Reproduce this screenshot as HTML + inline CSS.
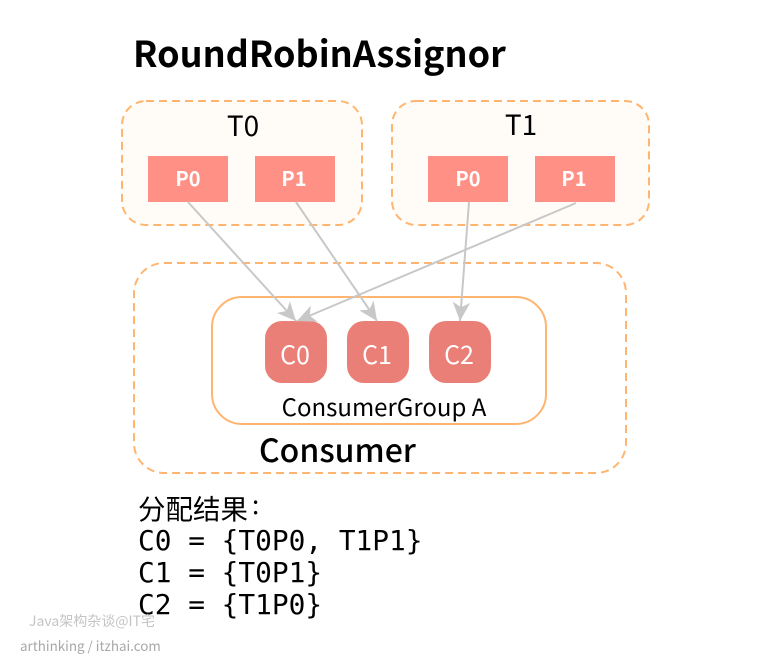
<!DOCTYPE html>
<html><head><meta charset="utf-8"><style>
html,body{margin:0;padding:0;background:#fff}
svg{display:block}
text{font-family:"Noto Sans CJK SC","Liberation Sans",sans-serif}
.m{font-family:"DejaVu Sans Mono","Noto Sans CJK SC",monospace;font-size:27.8px;fill:#000}
</style></head><body>
<svg width="774" height="658" viewBox="0 0 774 658" xmlns="http://www.w3.org/2000/svg">
<defs><marker id="a" viewBox="0 0 16 16" refX="15" refY="8" markerWidth="20" markerHeight="20" markerUnits="userSpaceOnUse" orient="auto"><path d="M0 1 L15 8 L0 15 L4 8 Z" fill="#c8c8c8"/></marker></defs>
<text x="133" y="67" font-size="36" font-weight="700" fill="#000">RoundRobinAssignor</text>
<rect x="122" y="101" width="240" height="124" rx="24" fill="#fffcf7" stroke="#ffb570" stroke-width="2" stroke-dasharray="8 5"/>
<rect x="392" y="101" width="257" height="124" rx="24" fill="#fffcf7" stroke="#ffb570" stroke-width="2" stroke-dasharray="8 5"/>
<text x="243" y="136" font-size="28" text-anchor="middle" fill="#000">T0</text>
<text x="521" y="135" font-size="28" text-anchor="middle" fill="#000">T1</text>
<rect x="148" y="156" width="80" height="46" fill="#ff9085"/>
<rect x="255" y="156" width="80" height="46" fill="#ff9085"/>
<rect x="428" y="156" width="80" height="46" fill="#ff9085"/>
<rect x="535" y="156" width="80" height="46" fill="#ff9085"/>
<g font-size="20" font-weight="700" fill="#fff" text-anchor="middle">
<text x="188" y="186">P0</text><text x="294" y="186">P1</text><text x="468" y="186">P0</text><text x="574" y="186">P1</text>
</g>
<rect x="134" y="263" width="492" height="210" rx="30" fill="#fff" stroke="#ffb570" stroke-width="2" stroke-dasharray="8 5"/>
<rect x="212" y="297" width="334" height="127" rx="30" fill="#fff" stroke="#ffb570" stroke-width="2"/>
<rect x="265" y="321" width="62" height="62" rx="17" fill="#ea7f78"/>
<rect x="347" y="321" width="62" height="62" rx="17" fill="#ea7f78"/>
<rect x="429" y="321" width="62" height="62" rx="17" fill="#ea7f78"/>
<g font-size="25" fill="#fff" text-anchor="middle">
<text x="295" y="364">C0</text><text x="377" y="364">C1</text><text x="459" y="364">C2</text>
</g>
<text x="384" y="416" font-size="24" text-anchor="middle" fill="#000">ConsumerGroup A</text>
<text x="259" y="462" font-size="32" font-weight="500" fill="#000">Consumer</text>
<g stroke="#c8c8c8" stroke-width="2" fill="none">
<line x1="188" y1="202" x2="296" y2="321" marker-end="url(#a)"/>
<line x1="296" y1="202" x2="377" y2="321" marker-end="url(#a)"/>
<line x1="469" y1="202" x2="460" y2="321" marker-end="url(#a)"/>
<line x1="576" y1="203" x2="297" y2="321" marker-end="url(#a)"/>
</g>
<text x="138" y="519" font-size="27.5" fill="#000">分配结果</text>
<text x="252" y="514" font-size="26" fill="#000">:</text>
<text class="m" x="138" y="550">C0 = {T0P0, T1P1}</text>
<text class="m" x="138" y="582">C1 = {T0P1}</text>
<text class="m" x="138" y="614">C2 = {T1P0}</text>
<text x="29" y="626" font-size="14" fill="#c4c4c4">Java架构杂谈@IT宅</text>
<text x="20" y="651" font-size="13.4" fill="#a8a8a8">arthinking / itzhai.com</text>
</svg>
</body></html>
